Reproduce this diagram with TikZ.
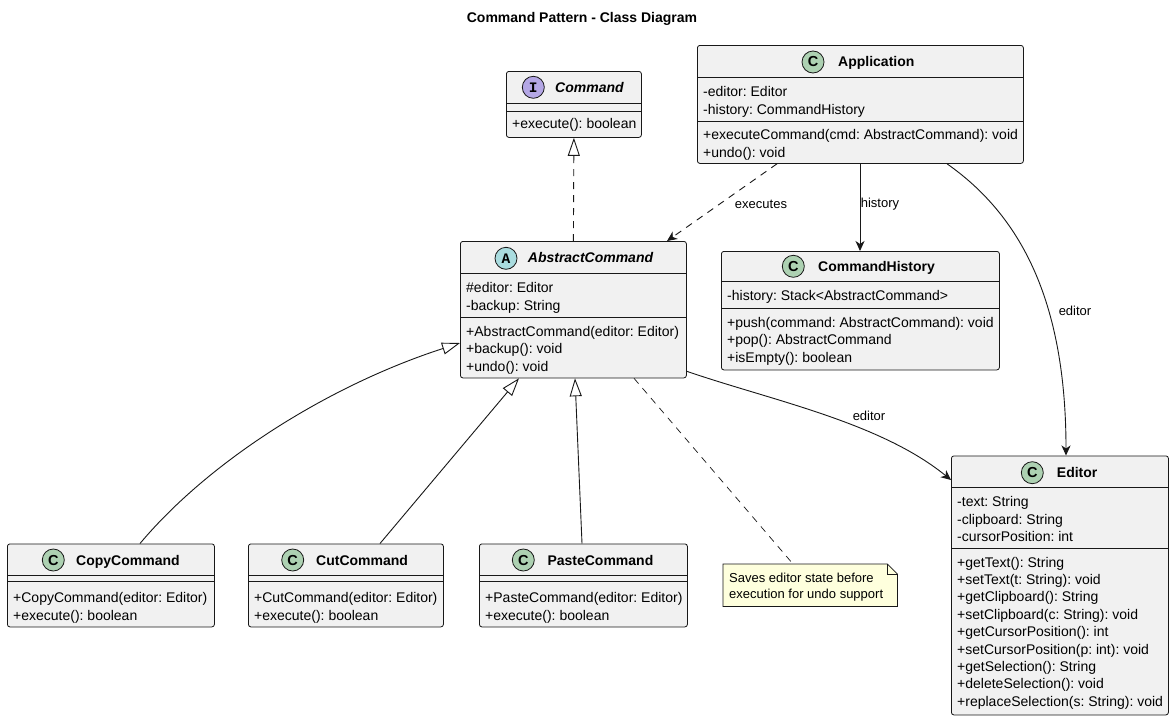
\documentclass[tikz,border=0pt]{standalone}
\usepackage{fontspec}
\setmainfont{Liberation Sans}
\newfontfamily\monofnt{Liberation Mono}
\usetikzlibrary{arrows.meta,calc}
\definecolor{boxfill}{HTML}{F1F1F1}
\definecolor{ink}{HTML}{181818}
\definecolor{cgreen}{HTML}{ADD1B2}
\definecolor{cpurple}{HTML}{B4A7E5}
\definecolor{ccyan}{HTML}{A9DCDF}
\definecolor{notefill}{HTML}{FEFFDD}
\frenchspacing
\tikzset{
  cls/.style={draw=ink, fill=boxfill, line width=0.8pt, rounded corners=2.5pt, inner sep=0pt, anchor=north west},
  sepl/.style={draw=ink, line width=0.8pt},
  row/.style={anchor=base west, inner sep=0pt, text=black, font=\fontsize{14}{16}\selectfont},
  hdr/.style={anchor=base west, inner sep=0pt, text=black, font=\fontsize{14}{16}\selectfont\bfseries},
  hdri/.style={anchor=base west, inner sep=0pt, text=black, font=\fontsize{14}{16}\selectfont\bfseries\itshape},
  circ/.style={circle, draw=ink, line width=0.8pt, minimum size=22pt, inner sep=0pt, font=\fontsize{14.5}{14.5}\selectfont},
  lbl/.style={inner sep=1pt, text=black, font=\fontsize{13}{15}\selectfont},
  conn/.style={draw=ink, line width=0.9pt},
  dsh/.style={dash pattern=on 7pt off 6pt},
  arr/.style={-{Stealth[length=10pt,width=9pt,inset=3pt]}},
  tri/.style={-{Triangle[open,length=18pt,width=12pt,fill=white]}},
}
\begin{document}
\begin{tikzpicture}[x=1pt,y=-1pt]
\useasboundingbox (0,0) rectangle (1174,720);
\fill[white] (0,0) rectangle (1174,720);

% title
\node[font=\fontsize{14}{16}\selectfont\bfseries, inner sep=0pt] (title) at (582,19) {Command Pattern - Class Diagram};

% ---------- Command ----------
\node[cls, minimum width=135pt, minimum height=66pt] (cmd) at (506,71) {};
\draw[sepl] (506,103) -- (641,103);
\draw[sepl] (506,111) -- (641,111);
\node[circ, fill=cpurple] (cmdc) at (533.3,87.3) {\monofnt\bfseries I};
\node[hdri] (cmdn) at (555,92.7) {Command};
\node[row] at (512,128) {+execute(): boolean};

% ---------- AbstractCommand ----------
\node[cls, minimum width=226pt, minimum height=136.5pt] (abs) at (460,241) {};
\draw[sepl] (460,273) -- (686,273);
\draw[sepl] (460,317) -- (686,317);
\node[circ, fill=ccyan] (absc) at (506,258.3) {\monofnt\bfseries A};
\node[hdri] (absn) at (527.7,262.7) {AbstractCommand};
\node[row] at (466,292) {\#editor: Editor};
\node[row] at (466,310) {-backup: String};
\node[row] at (466,336) {+AbstractCommand(editor: Editor)};
\node[row] at (466,353.5) {+backup(): void};
\node[row] at (466,371) {+undo(): void};

% ---------- Application ----------
\node[cls, minimum width=326pt, minimum height=118pt] (app) at (697,45) {};
\draw[sepl] (697,77) -- (1023,77);
\draw[sepl] (697,121) -- (1023,121);
\node[circ, fill=cgreen] (appc) at (813,62) {\bfseries C};
\node[hdr] (appn) at (838,66.7) {Application};
\node[row] at (703,96.5) {-editor: Editor};
\node[row] at (703,114.5) {-history: CommandHistory};
\node[row] at (703,139.5) {+executeCommand(cmd: AbstractCommand): void};
\node[row] at (703,157.5) {+undo(): void};

% ---------- CommandHistory ----------
\node[cls, minimum width=278pt, minimum height=118.5pt] (hist) at (721,251) {};
\draw[sepl] (721,281) -- (999,281);
\draw[sepl] (721,308) -- (999,308);
\node[circ, fill=cgreen] (histc) at (793.3,266.3) {\bfseries C};
\node[hdr] (histn) at (818,271.3) {CommandHistory};
\node[row] at (727,300.5) {-history: Stack<AbstractCommand>};
\node[row] at (727,327) {+push(command: AbstractCommand): void};
\node[row] at (727,344.5) {+pop(): AbstractCommand};
\node[row] at (727,362) {+isEmpty(): boolean};

% ---------- Editor ----------
\node[cls, minimum width=217pt, minimum height=259pt] (ed) at (951,455.5) {};
\draw[sepl] (951,487) -- (1168,487);
\draw[sepl] (951,548) -- (1168,548);
\node[circ, fill=cgreen] (edc) at (1032.3,472.7) {\bfseries C};
\node[hdr] (edn) at (1056.7,477.3) {Editor};
\node[row] at (957,506.5) {-text: String};
\node[row] at (957,524) {-clipboard: String};
\node[row] at (957,541.3) {-cursorPosition: int};
\node[row] at (957,567) {+getText(): String};
\node[row] at (957,584.4) {+setText(t: String): void};
\node[row] at (957,601.8) {+getClipboard(): String};
\node[row] at (957,619.2) {+setClipboard(c: String): void};
\node[row] at (957,636.6) {+getCursorPosition(): int};
\node[row] at (957,654) {+setCursorPosition(p: int): void};
\node[row] at (957,671.4) {+getSelection(): String};
\node[row] at (957,688.8) {+deleteSelection(): void};
\node[row] at (957,706.2) {+replaceSelection(s: String): void};

% ---------- CopyCommand ----------
\node[cls, minimum width=207pt, minimum height=83pt] (copy) at (7,543.5) {};
\draw[sepl] (7,575) -- (214,575);
\draw[sepl] (7,581) -- (214,581);
\node[circ, fill=cgreen] (copyc) at (53.3,560) {\bfseries C};
\node[hdr] (copyn) at (76,565) {CopyCommand};
\node[row] at (13,602) {+CopyCommand(editor: Editor)};
\node[row] at (13,620) {+execute(): boolean};

% ---------- CutCommand ----------
\node[cls, minimum width=195pt, minimum height=83pt] (cut) at (248,543.5) {};
\draw[sepl] (248,575) -- (443,575);
\draw[sepl] (248,581) -- (443,581);
\node[circ, fill=cgreen] (cutc) at (292.7,560) {\bfseries C};
\node[hdr] (cutn) at (316,565) {CutCommand};
\node[row] at (254,602) {+CutCommand(editor: Editor)};
\node[row] at (254,620) {+execute(): boolean};

% ---------- PasteCommand ----------
\node[cls, minimum width=208pt, minimum height=83pt] (paste) at (479,543.5) {};
\draw[sepl] (479,575) -- (687,575);
\draw[sepl] (479,581) -- (687,581);
\node[circ, fill=cgreen] (pastec) at (523.3,560) {\bfseries C};
\node[hdr] (pasten) at (547.3,565) {PasteCommand};
\node[row] at (485,602) {+PasteCommand(editor: Editor)};
\node[row] at (485,620) {+execute(): boolean};

% ---------- Note ----------
\node[anchor=north west, minimum width=174pt, minimum height=42pt, inner sep=0pt] (note) at (723,564) {};
\draw[draw=ink, fill=notefill, line width=0.8pt]
  (note.north west) -- ([xshift=-10pt]note.north east) -- ([yshift=-10pt]note.north east)
  -- (note.south east) -- (note.south west) -- cycle;
\draw[draw=ink, line width=0.8pt]
  ([xshift=-10pt]note.north east) -- ([xshift=-10pt,yshift=-10pt]note.north east) -- ([yshift=-10pt]note.north east);
\node[anchor=base west, inner sep=0pt, font=\fontsize{13}{15}\selectfont] (notet1) at (729,582.5) {Saves editor state before};
\node[anchor=base west, inner sep=0pt, font=\fontsize{13}{15}\selectfont] (notet2) at (729,598.5) {execution for undo support};

% ---------- Connectors ----------
% realization AbstractCommand -> Command
\draw[conn, dsh, tri] (abs.north) -- (cmd.south);
% Application -> AbstractCommand (executes)
\draw[conn, dsh, arr] ([xshift=80pt]app.south west) -- ([xshift=207pt]abs.north west);
\node[lbl] (lexec) at (761,204) {executes};
% Application -> CommandHistory
\draw[conn, arr] ([xshift=163pt]app.south west) -- ([xshift=139pt]hist.north west);
\node[lbl] (lhist) at (880,204) {history};
% Application -> Editor
\draw[conn, arr] ([xshift=250pt]app.south west) .. controls (1020,215) and (1066,300) .. ([xshift=115pt]ed.north west);
\node[lbl] (led1) at (1075,311) {editor};
% AbstractCommand -> Editor
\draw[conn, arr] ([yshift=7pt]abs.south east) .. controls (770,400) and (880,422) .. ([yshift=-24.5pt]ed.north west);
\node[lbl] (led2) at (869,416) {editor};
% inheritance
\draw[conn, tri] ([xshift=133pt]copy.north west) .. controls (210,460) and (330,385) .. ([yshift=-102pt]abs.north west);
\draw[conn, tri] ([xshift=132pt]cut.north west) -- ([xshift=59pt]abs.south west);
\draw[conn, tri] ([xshift=103pt]paste.north west) -- ([xshift=115pt]abs.south west);
% note link
\draw[conn, dsh, line width=0.7pt] ([xshift=174pt]abs.south west) -- ([xshift=70pt]note.north west);
\end{tikzpicture}
\end{document}
